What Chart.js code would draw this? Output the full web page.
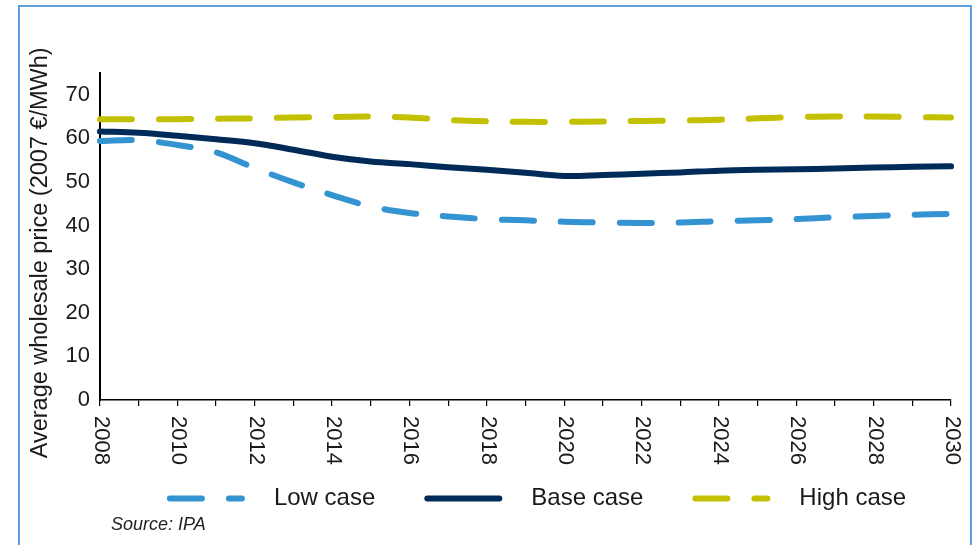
<!DOCTYPE html>
<html>
<head>
<meta charset="utf-8">
<title>Average wholesale price</title>
<script src="https://cdn.jsdelivr.net/npm/chart.js@4.4.1/dist/chart.umd.min.js"></script>
<style>
  html, body { margin: 0; padding: 0; background: #fff; }
  body { width: 977px; height: 545px; position: relative; overflow: hidden; font-family: "Liberation Sans", Arial, sans-serif; }
  #frame { position: absolute; left: 18px; top: 5px; width: 950px; height: 600px; border: 2px solid #5da2dc; }
  #chart { position: absolute; left: 0; top: 0; }
  #source { position: absolute; left: 111px; top: 514px; font-size: 18px; font-style: italic; color: #222; }
</style>
</head>
<body>
<div id="frame"></div>
<canvas id="chart" width="977" height="545"></canvas>
<div id="source">Source: IPA</div>
<script>
// values (2007 €/MWh)
const years = [2008, 2009, 2010, 2011, 2012, 2013, 2014, 2015, 2016, 2017, 2018, 2019,
               2020, 2021, 2022, 2023, 2024, 2025, 2026, 2027, 2028, 2029, 2030];
const lowCase = [59.4, 59.6, 58.5, 56.8, 53.2, 49.9, 47.0, 44.4, 42.9, 42.1, 41.5, 41.2,
                 40.9, 40.7, 40.6, 40.7, 41.0, 41.2, 41.5, 41.9, 42.2, 42.5, 42.7];
const baseCase = [61.6, 61.3, 60.6, 59.8, 58.9, 57.4, 55.8, 54.7, 54.1, 53.4, 52.8, 52.1,
                  51.4, 51.6, 51.9, 52.2, 52.6, 52.8, 52.9, 53.1, 53.3, 53.5, 53.6];
const highCase = [64.4, 64.4, 64.4, 64.5, 64.6, 64.8, 64.9, 65.0, 64.8, 64.2, 63.9, 63.8,
                  63.8, 63.9, 64.0, 64.1, 64.3, 64.6, 64.9, 65.0, 65.0, 64.9, 64.8];
const yTicks = [0, 10, 20, 30, 40, 50, 60, 70];
const yMax = 75;

const FONT = '"Liberation Sans", Arial, sans-serif';
const TEXT = "#1a1a1a";
Chart.defaults.font.family = FONT;
Chart.defaults.color = TEXT;

function series(label, data, color, dash) {
  return {
    label: label,
    data: data,
    borderColor: color,
    backgroundColor: color,
    borderWidth: 6,
    borderDash: dash,
    borderCapStyle: "round",
    borderJoinStyle: "round",
    pointRadius: 0,
    tension: 0.35,
    fill: false
  };
}

// year labels read top-to-bottom under every second tick
const yearLabels = {
  id: "yearLabels",
  afterDraw(chart) {
    const xs = chart.scales.x;
    const ctx = chart.ctx;
    ctx.save();
    ctx.font = "22px " + FONT;
    ctx.fillStyle = TEXT;
    ctx.textAlign = "left";
    ctx.textBaseline = "middle";
    years.forEach((yr, i) => {
      if (yr % 2) return;
      ctx.save();
      ctx.translate(xs.getPixelForTick(i) + 1, xs.top + 16);
      ctx.rotate(Math.PI / 2);
      ctx.fillText(String(yr), 0, 0);
      ctx.restore();
    });
    ctx.restore();
  }
};

const legendNudge = {
  id: "legendNudge",
  afterLayout(chart) {
    chart.legend.left += 12.5;
    chart.legend.right += 12.5;
  }
};

new Chart(document.getElementById("chart"), {
  type: "line",
  data: {
    labels: years,
    datasets: [
      series("Low case", lowCase, "#3493d1", [32, 27]),
      series("Base case", baseCase, "#002b59", []),
      series("High case", highCase, "#c3c000", [32, 27])
    ]
  },
  options: {
    responsive: false,
    animation: false,
    devicePixelRatio: 1,
    events: [],
    layout: { padding: { left: 20, right: 26, top: 73, bottom: 24.5 } },
    scales: {
      x: {
        type: "category",
        offset: false,
        grid: { display: true, drawOnChartArea: false, drawTicks: true, tickLength: 6, color: "#000", lineWidth: 1.2 },
        border: { display: true, color: "#000", width: 1.5 },
        ticks: { display: false, autoSkip: false },
        afterFit(scale) { scale.height = 34.5; }
      },
      y: {
        min: 0,
        max: yMax,
        grid: { display: true, drawOnChartArea: false, drawTicks: false },
        border: { display: true, color: "#000", width: 2 },
        ticks: { font: { size: 22 }, color: TEXT, padding: 10 },
        afterBuildTicks(scale) { scale.ticks = yTicks.map(v => ({ value: v })); },
        title: {
          display: true,
          text: "Average wholesale price (2007 €/MWh)     ",
          font: { size: 23.5 },
          color: TEXT,
          padding: { top: 6, bottom: 0 }
        },
        afterFit(scale) { scale.width = 80; }
      }
    },
    plugins: {
      tooltip: { enabled: false },
      legend: {
        position: "bottom",
        fullSize: false,
        labels: {
          usePointStyle: true,
          pointStyle: "line",
          pointStyleWidth: 72,
          font: { size: 24 },
          color: TEXT,
          padding: 52,
          generateLabels(chart) {
            const items = Chart.defaults.plugins.legend.labels.generateLabels(chart);
            items.forEach(it => {
              const ds = chart.data.datasets[it.datasetIndex];
              it.text = "   " + it.text;
              it.lineDash = ds.borderDash;
              it.lineCap = ds.borderCapStyle;
              it.lineWidth = ds.borderWidth;
              it.strokeStyle = ds.borderColor;
            });
            return items;
          }
        }
      }
    }
  },
  plugins: [yearLabels, legendNudge]
});
</script>
</body>
</html>
